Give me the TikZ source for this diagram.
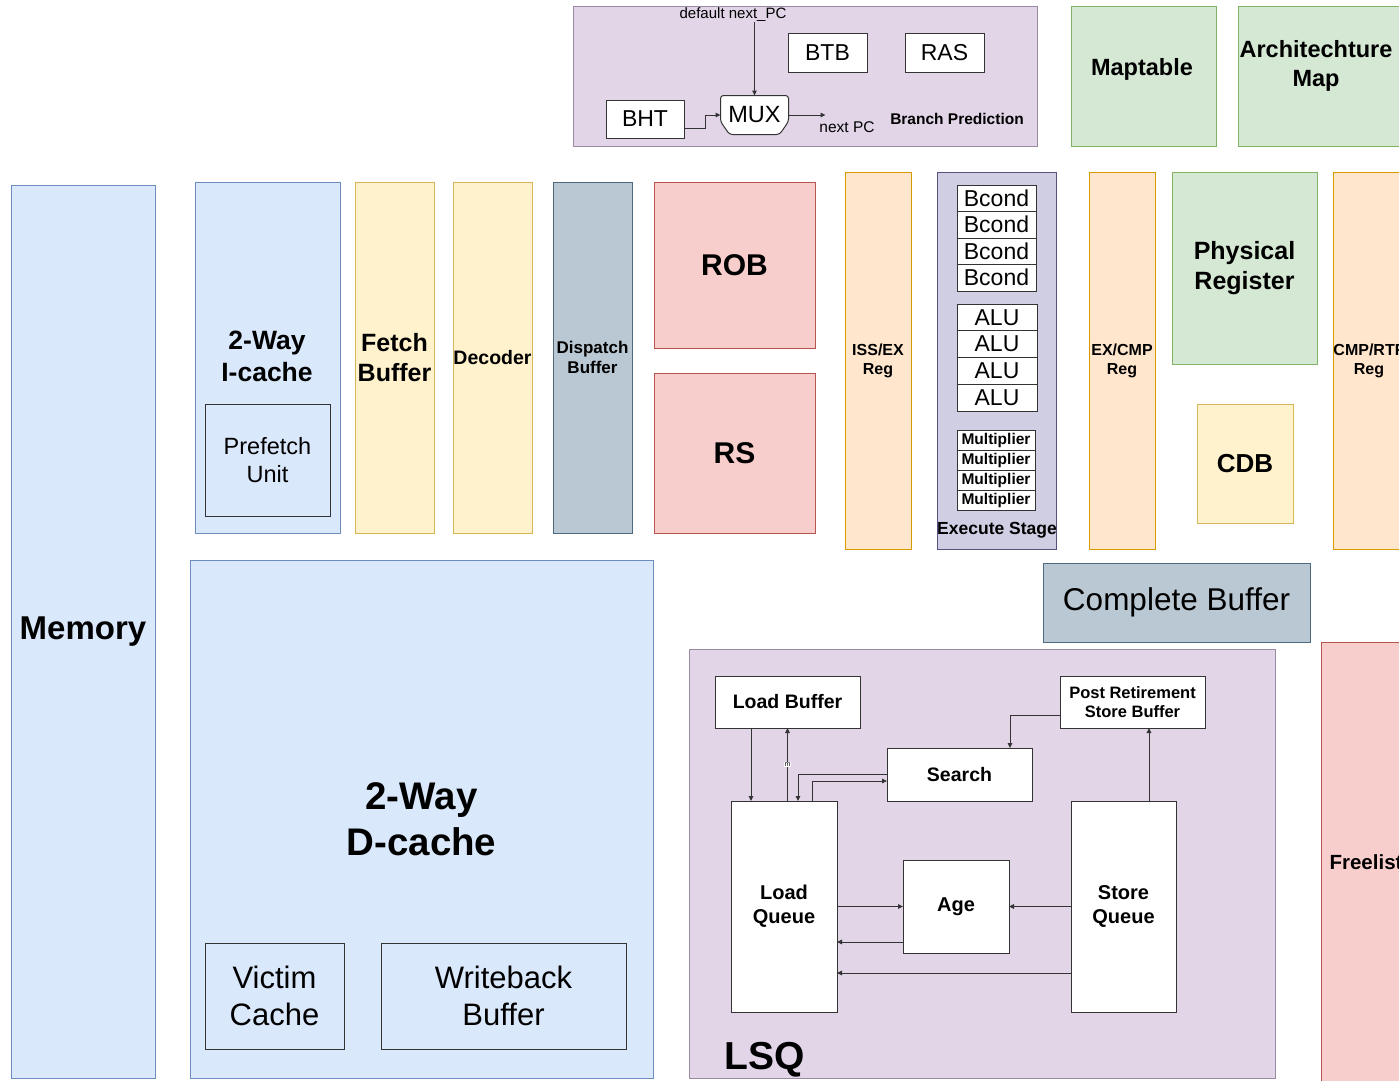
\documentclass[tikz,border=0pt]{standalone}
\usepackage{fontspec}
\setmainfont{Liberation Sans}
\usetikzlibrary{arrows.meta,calc}
\newcommand\fs[1]{\fontsize{#1}{\dimexpr #1pt*12/10\relax}\selectfont}
\definecolor{cBlueF}{HTML}{DAE8FC}\definecolor{cBlueS}{HTML}{6C8EBF}
\definecolor{cYelF}{HTML}{FFF2CC}\definecolor{cYelS}{HTML}{D6B656}
\definecolor{cGrayF}{HTML}{BAC8D3}\definecolor{cGrayS}{HTML}{4D6A80}
\definecolor{cRedF}{HTML}{F8CECC}\definecolor{cRedS}{HTML}{B85450}
\definecolor{cOrF}{HTML}{FFE6CC}\definecolor{cOrS}{HTML}{D79B00}
\definecolor{cPurF}{HTML}{E1D5E7}\definecolor{cPurS}{HTML}{9A8AA6}
\definecolor{cGrnF}{HTML}{D5E8D4}\definecolor{cGrnS}{HTML}{82B366}
\definecolor{cExF}{HTML}{D0CEE2}\definecolor{cExS}{HTML}{56517E}
\definecolor{cLine}{HTML}{333333}
\newcommand\bx[7]{\node[#6, minimum width={#4-(#2)}, minimum height={#5-(#3)}] (#1) at ({(#2+#4)/2},{(#3+#5)/2}) {#7};}
\tikzset{
  blk/.style={draw, line width=1pt, inner sep=0pt, outer sep=0pt, align=center, text=black},
  sBlue/.style={blk, fill=cBlueF, draw=cBlueS},
  sYel/.style={blk, fill=cYelF, draw=cYelS},
  sGray/.style={blk, fill=cGrayF, draw=cGrayS},
  sRed/.style={blk, fill=cRedF, draw=cRedS},
  sOr/.style={blk, fill=cOrF, draw=cOrS},
  sPur/.style={blk, fill=cPurF, draw=cPurS},
  sGrn/.style={blk, fill=cGrnF, draw=cGrnS},
  sEx/.style={blk, fill=cExF, draw=cExS},
  sWhite/.style={blk, fill=white, draw=cLine},
  sInner/.style={blk, fill=cBlueF, draw=cLine},
  lbl/.style={inner sep=0pt, outer sep=0pt, align=center, text=black},
  arr/.style={draw=cLine, line width=1pt, -{Triangle[length=5pt,width=4.5pt]}},
}
\begin{document}
\begin{tikzpicture}[x=1pt,y=-1pt]
\useasboundingbox (0,0) rectangle (1399,1080);
\clip (0,0) rectangle (1399,1080);
\fill[white] (0,0) rectangle (1399,1080);

% ---------- Branch prediction ----------
\bx{bp}{573}{6}{1037}{146}{sPur}{}
\node[lbl, font=\fs{15}] (dnpc) at (733,15) {default next\_PC};
\bx{btb}{788}{33}{867}{72}{sWhite,font=\fs{23}}{BTB}
\bx{ras}{905}{33}{984}{72}{sWhite,font=\fs{23}}{RAS}
\bx{bht}{606}{100}{684}{138}{sWhite,font=\fs{23}}{BHT}
\draw[line width=1pt, draw=cLine, fill=white, rounded corners=3pt]
  (729.5,134.5) -- (720.5,121.5) -- (720.5,95.5) -- (788.5,95.5) -- (788.5,121.5) -- (779.5,134.5) -- cycle;
\node[lbl, font=\fs{23.5}, minimum width=68, minimum height=39] (mux) at (754.5,115) {MUX};
\draw[arr] (dnpc.south -| mux.north) -- (mux.north);
\draw[arr] ([yshift=-9pt]bht.east) -- ++(21,0) |- (mux.west);
\draw[arr] (mux.east) -- ++(37,0) coordinate (npcend);
\node[lbl, font=\fs{15.5}] (npc) at (847,127) {next PC};
\node[lbl, font=\fs{15.5}\bfseries] (bplabel) at (957,119) {Branch Prediction};

% ---------- Maps ----------
\bx{map}{1071}{6}{1216}{146}{sGrn}{}
\node[lbl, font=\fs{23.5}\bfseries] (mapt) at (1142,69) {Maptable};
\bx{amap}{1238}{6}{1410}{146}{sGrn}{}
\node[lbl, font=\fs{23.5}\bfseries] (amapt) at (1316,66) {Architechture\\Map};

% ---------- Front end ----------
\bx{mem}{11}{185}{155}{1078}{sBlue}{}
\node[lbl, font=\fs{33}\bfseries] (memt) at (83,632) {Memory};
\bx{icache}{195}{182}{340}{533}{sBlue}{}
\node[lbl, font=\fs{26.5}\bfseries] (icachet) at (267,356) {2-Way\\I-cache};
\bx{pf}{205}{404}{330}{516}{sInner,font=\fs{23.5}}{Prefetch\\Unit}
\bx{fb}{355}{182}{434}{533}{sYel,font=\fs{25}\bfseries}{Fetch\\Buffer}
\bx{dec}{453}{182}{532}{533}{sYel,font=\fs{19.5}\bfseries}{Decoder}
\bx{disp}{553}{182}{632}{533}{sGray,font=\fs{17}\bfseries}{Dispatch\\Buffer}
\bx{rob}{654}{182}{815}{348}{sRed,font=\fs{30}\bfseries}{ROB}
\bx{rs}{654}{373}{815}{533}{sRed,font=\fs{30}\bfseries}{RS}
\bx{issex}{845}{172}{911}{549}{sOr,font=\fs{16}\bfseries}{ISS/EX\\Reg}

% ---------- Execute stage ----------
\bx{ex}{937}{172}{1056}{549}{sEx}{}
\foreach \i in {0,1,2,3}{
  \bx{bc\i}{957}{185+26.5*\i}{1036}{211.5+26.5*\i}{sWhite,font=\fs{23}}{Bcond}
  \bx{alu\i}{957}{304+26.75*\i}{1037}{330.75+26.75*\i}{sWhite,font=\fs{23}}{ALU}
  \bx{mul\i}{957}{430+20*\i}{1035}{450+20*\i}{sWhite,font=\fs{15.5}\bfseries}{Multiplier}
}
\node[lbl, font=\fs{17.5}\bfseries] (exlabel) at (997,530) {Execute Stage};

% ---------- Back end ----------
\bx{excmp}{1089}{172}{1155}{549}{sOr,font=\fs{16}\bfseries}{EX/CMP\\Reg}
\bx{preg}{1172}{172}{1317}{364}{sGrn,font=\fs{25}\bfseries}{Physical\\Register}
\bx{cdb}{1197}{404}{1293}{523}{sYel,font=\fs{26}\bfseries}{CDB}
\bx{cmprt}{1334}{172}{1404}{549}{sOr,font=\fs{16}\bfseries}{CMP/RTF\\Reg}
\bx{cb}{1043}{563}{1310}{642}{sGray,font=\fs{31.5}}{Complete Buffer}
\bx{fl}{1321}{642}{1406}{1082}{sRed}{}
\node[lbl, font=\fs{20.5}\bfseries] (flt) at (1366,862) {Freelist};

% ---------- D-cache ----------
\bx{dcache}{190}{560}{653}{1078}{sBlue,font=\fs{38.5}\bfseries}{2-Way\\D-cache}
\bx{vc}{205}{943}{344}{1049}{sInner,font=\fs{31}}{Victim\\Cache}
\bx{wb}{381}{943}{626}{1049}{sInner,font=\fs{31}}{Writeback\\Buffer}

% ---------- LSQ ----------
\bx{lsq}{689}{649}{1275}{1078}{sPur}{}
\node[lbl, font=\fs{39}\bfseries] (lsqt) at (765,1060) {LSQ};
\bx{lb}{715}{676}{860}{728}{sWhite,font=\fs{19.5}\bfseries}{Load Buffer}
\bx{prsb}{1060}{676}{1205}{728}{sWhite,font=\fs{16.5}\bfseries}{Post Retirement\\Store Buffer}
\bx{search}{887}{748}{1032}{801}{sWhite,font=\fs{19.5}\bfseries}{Search}
\bx{lq}{731}{801}{837}{1012}{sWhite,font=\fs{20}\bfseries}{Load\\Queue}
\bx{sq}{1071}{801}{1176}{1012}{sWhite,font=\fs{20}\bfseries}{Store\\Queue}
\bx{age}{903}{860}{1009}{953}{sWhite,font=\fs{20}\bfseries}{Age}

\coordinate (lbA) at ([xshift=-36.5pt]lb.south);
\draw[arr] (lbA) -- (lbA |- lq.north);
\draw[arr] (lb.south |- lq.north) -- (lb.south)
  node[pos=0.5, fill=white, inner sep=0.6pt, font=\fs{7}] (mlab) {m};
\coordinate (lqS1) at ([xshift=14pt]lq.north);
\draw[arr] (search.west) -| (lqS1);
\coordinate (lqS2) at ([xshift=28pt]lq.north);
\coordinate (srW) at ([yshift=-6.5pt]search.west);
\draw[arr] (lqS2) |- (srW);
\coordinate (prW) at ([yshift=-13pt]prsb.west);
\coordinate (srN) at ([xshift=50.5pt]search.north);
\draw[arr] (prW) -| (srN);
\coordinate (sqN) at ([xshift=25.5pt]sq.north);
\draw[arr] (sqN) -- (sqN |- prsb.south);
\draw[arr] (lq.east |- age.west) -- (age.west);
\draw[arr] (sq.west |- age.east) -- (age.east);
\coordinate (ageB) at ([yshift=-35.5pt]age.west);
\draw[arr] (ageB) -- (ageB -| lq.east);
\coordinate (sqB) at ([yshift=-66.5pt]sq.west);
\draw[arr] (sqB) -- (sqB -| lq.east);
\end{tikzpicture}
\end{document}
